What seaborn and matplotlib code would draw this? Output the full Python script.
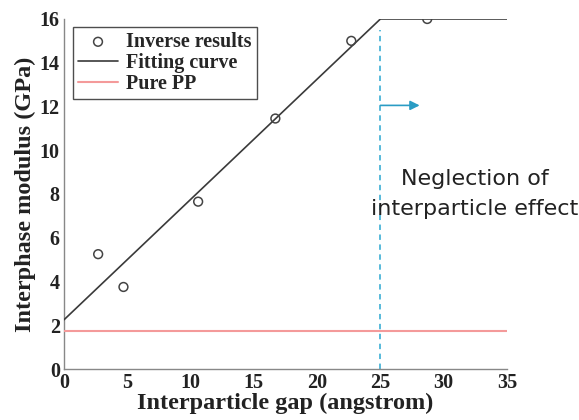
import matplotlib
matplotlib.use("Agg")
import matplotlib.pyplot as plt
import seaborn as sns
import pandas as pd

gap_pts = [2.7, 4.7, 10.6, 16.7, 22.7, 28.7]
mod_pts = [5.25, 3.75, 7.65, 11.45, 15.0, 16.0]
fit_x = [0, 25, 35]
fit_y = [2.25, 16, 16]
pp_x = [0, 35]
pp_y = [1.72, 1.72]
xticks = [0, 5, 10, 15, 20, 25, 30, 35]
yticks = [0, 2, 4, 6, 8, 10, 12, 14, 16]

sns.set_style("white")
plt.rcParams['font.family'] = ['Liberation Serif', 'DejaVu Serif']

fig = plt.figure(figsize=(5.79, 4.2), dpi=100)
ax = fig.add_axes([0.1105, 0.1214, 0.7651, 0.8334])

df_pts = pd.DataFrame({"x": gap_pts, "y": mod_pts})
df_fit = pd.DataFrame({"x": fit_x, "y": fit_y})
df_pp = pd.DataFrame({"x": pp_x, "y": pp_y})

sns.scatterplot(data=df_pts, x="x", y="y", ax=ax, marker="o", s=40,
                facecolors="none", edgecolor="#444444", linewidth=1.1,
                label="Inverse results", zorder=4)
sns.lineplot(data=df_fit, x="x", y="y", ax=ax, color="#3a3a3a", linewidth=1.2,
             label="Fitting curve", zorder=3)
sns.lineplot(data=df_pp, x="x", y="y", ax=ax, color="#f49a9a", linewidth=1.5,
             label="Pure PP", zorder=3)

ax.plot([25, 25], [0, 15.5], linestyle=(0, (3, 2.5)), color="#4ab4d8", linewidth=1.3, zorder=2)
ax.annotate("", xy=(28.1, 12.05), xytext=(25, 12.05),
            arrowprops=dict(arrowstyle="-|>", color="#2a9cc4", lw=1.2,
                            mutation_scale=14, shrinkA=0, shrinkB=0))
ax.text(32.45, 8.0, "Neglection of\ninterparticle effect", ha="center", va="center",
        fontsize=16, family="DejaVu Sans", color="#222222", linespacing=1.62,
        clip_on=False)

ax.set_xlim(0, 35)
ax.set_ylim(0, 16)
ax.set_xticks(xticks)
ax.set_yticks(yticks)
ax.tick_params(direction="in", length=3, width=0.8, colors="#777777",
               labelcolor="#222222", labelsize=14.5, pad=3)
for lab in ax.get_xticklabels() + ax.get_yticklabels():
    lab.set_fontweight("bold")
ax.set_xlabel("Interparticle gap (angstrom)", fontsize=17.5, fontweight="bold",
              color="#222222", labelpad=0)
ax.set_ylabel("Interphase modulus (GPa)", fontsize=17.5, fontweight="bold",
              color="#222222", labelpad=3)
for s in ["top", "right"]:
    ax.spines[s].set_visible(False)
for s in ["left", "bottom"]:
    ax.spines[s].set_color("#888888")
    ax.spines[s].set_linewidth(1.0)

leg = ax.legend(loc="upper left", bbox_to_anchor=(0.02, 0.977), frameon=True,
                fancybox=False, edgecolor="#222222",
                prop={"weight": "bold", "size": 14.5}, handlelength=2.0,
                borderpad=0.25, labelspacing=0.05, handletextpad=0.4,
                borderaxespad=0)
leg.get_frame().set_linewidth(1.0)

fig.savefig("out.png", dpi=100)
